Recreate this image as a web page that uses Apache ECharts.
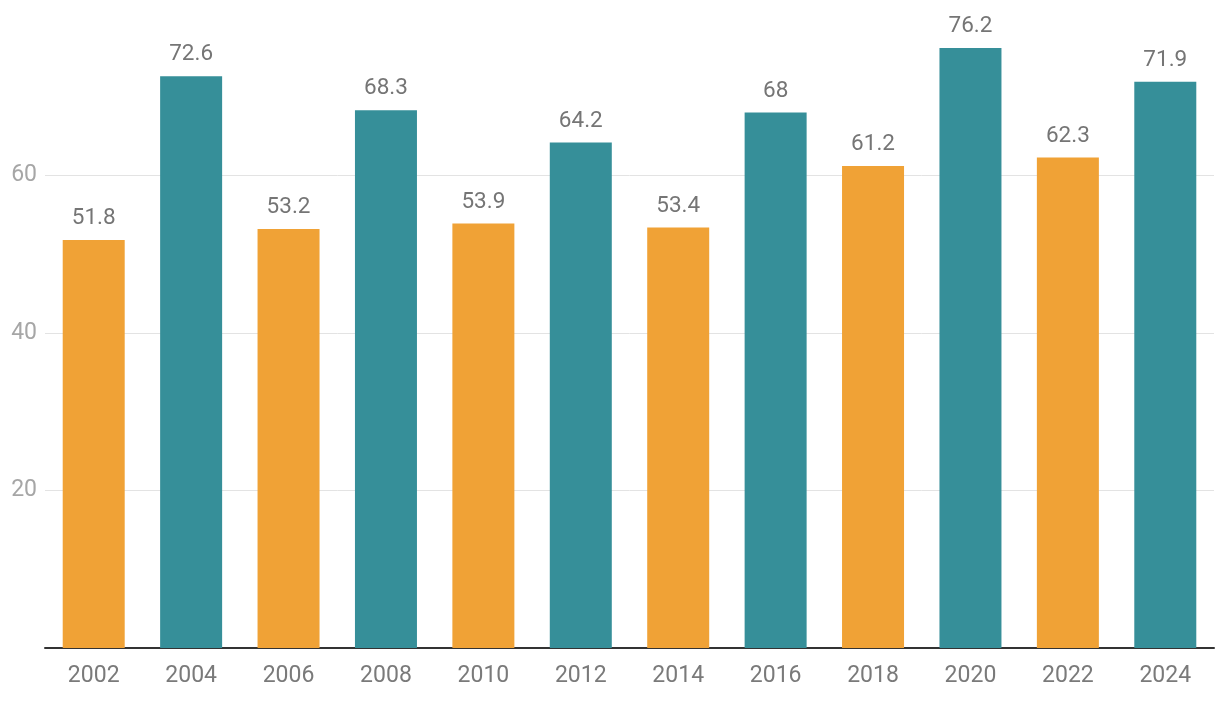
<!DOCTYPE html>
<html><head><meta charset="utf-8">
<script src="https://cdn.jsdelivr.net/npm/echarts@6/dist/echarts.min.js"></script>
<style>html,body{margin:0;padding:0;background:#fff}#c{width:1220px;height:704px}</style>
</head><body><div id="c"></div>
<script>
const categories = ['2002','2004','2006','2008','2010','2012','2014','2016','2018','2020','2022','2024'];
const values = [51.8, 72.6, 53.2, 68.3, 53.9, 64.2, 53.4, 68, 61.2, 76.2, 62.3, 71.9];
const colorGroups = ['a','b','a','b','a','b','a','b','a','b','a','b'];
const yTicks = [20, 40, 60];
const palette = {a:'#F0A236', b:'#368F99'};
const chart = echarts.init(document.getElementById('c'));
chart.setOption({
  animation:false,
  grid:{left:45,right:6,top:18,bottom:56,containLabel:false},
  xAxis:{type:'category',data:categories,
    axisLine:{lineStyle:{color:'#333',width:2}},axisTick:{show:false},
    axisLabel:{color:'#7a7a7a',fontSize:23,fontFamily:'Roboto',margin:17}},
  yAxis:{type:'value',min:0,max:80,interval:20,
    axisLine:{show:false},axisTick:{show:false},
    splitLine:{lineStyle:{color:'#e3e3e3',width:1},showMinLine:false,showMaxLine:false},
    axisLabel:{color:'#a6a6a6',fontSize:23,fontFamily:'Roboto',margin:8,showMinLabel:false,showMaxLabel:false,
      formatter:v=>yTicks.includes(v)?String(v):''}},
  series:[{type:'bar',barWidth:62,
    data:values.map((v,i)=>({value:v,itemStyle:{color:palette[colorGroups[i]]}})),
    label:{show:true,position:'top',distance:10,color:'#757575',fontSize:22.5,fontFamily:'Roboto'}}]
});
</script></body></html>
